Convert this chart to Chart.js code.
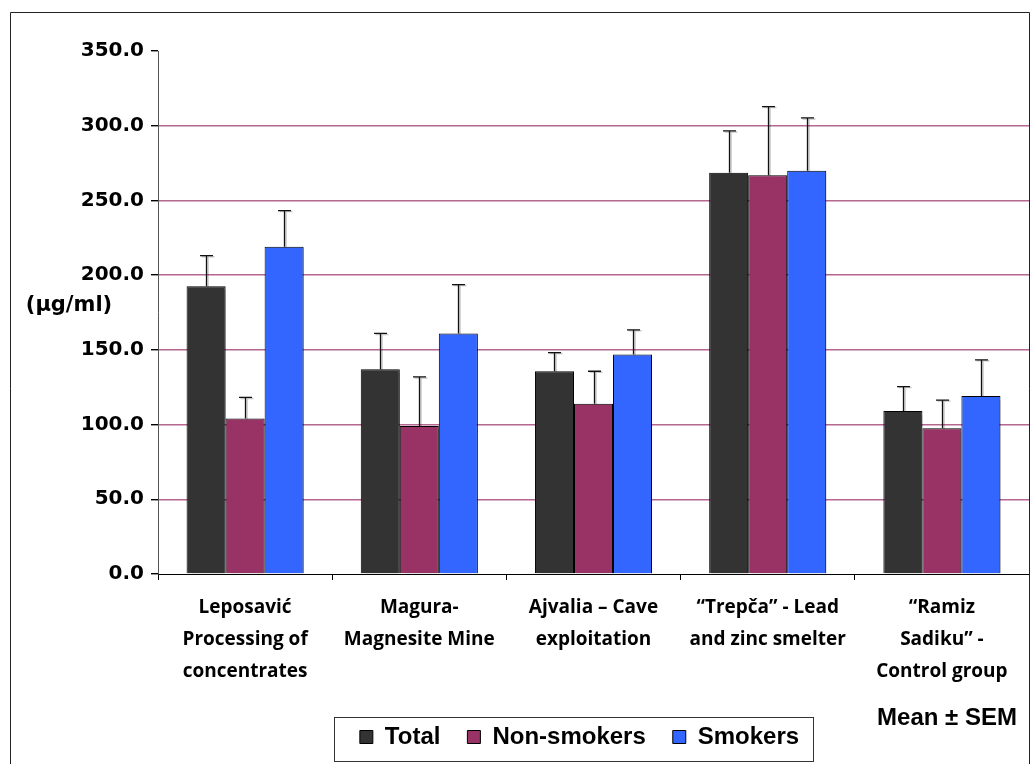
<!DOCTYPE html>
<html>
<head>
<meta charset="utf-8">
<script src="https://cdn.jsdelivr.net/npm/chart.js@4.4.1/dist/chart.umd.min.js"></script>
<style>
  html, body { margin: 0; padding: 0; background: #fff; }
  #wrap { width: 1033px; height: 764px; position: relative; }
</style>
</head>
<body>
<div id="wrap"><canvas id="c" width="1033" height="764"></canvas></div>
<script>
// Sites (multi-line category labels)
const categories = [
  ["Leposavić", "Processing of", "concentrates"],
  ["Magura-", "Magnesite Mine"],
  ["Ajvalia – Cave", "exploitation"],
  ["“Trepča” - Lead", "and zinc smelter"],
  ["“Ramiz", "Sadiku” -", "Control group"]
];

// Mean values (µg/ml)
const totalMean     = [192.6, 137.0, 135.7, 268.5, 109.0];
const nonSmokerMean = [104.1,  99.0, 114.0, 266.9,  97.6];
const smokerMean    = [219.0, 161.0, 146.9, 269.8, 119.1];

// Standard error of the mean
const totalSem     = [20.4, 24.0, 12.5, 28.0, 16.4];
const nonSmokerSem = [14.1, 32.9, 21.7, 45.9, 18.8];
const smokerSem    = [24.2, 32.7, 16.5, 35.4, 24.2];

// Y axis ticks
const yMin = 0, yMax = 350, yStep = 50;

const seriesNames = ["Total", "Non-smokers", "Smokers"];
const seriesColors = ["#333333", "#993366", "#3366FF"];

const semBySeries = [totalSem, nonSmokerSem, smokerSem];

// Upward SEM whiskers on each bar, plus soft bar shadows
const errorBars = {
  id: 'errorBars',
  beforeDatasetsDraw(chart) {
    const ctx = chart.ctx;
    ctx.save();
    ctx.shadowColor = 'rgba(0,0,0,0.28)';
    ctx.shadowOffsetX = 2;
    ctx.shadowOffsetY = 1;
    ctx.shadowBlur = 1;
  },
  afterDatasetsDraw(chart) {
    const ctx = chart.ctx;
    ctx.restore();
    const y = chart.scales.y;
    chart.data.datasets.forEach((ds, di) => {
      const meta = chart.getDatasetMeta(di);
      const sems = semBySeries[di];
      meta.data.forEach((bar, i) => {
        const x = Math.round(bar.x) + 0.5;
        const top = bar.y;
        const end = y.getPixelForValue(ds.data[i] + sems[i]);
        const half = 6.5;
        const draw = (dx, dy, col, w) => {
          ctx.save();
          ctx.strokeStyle = col;
          ctx.lineWidth = w;
          ctx.beginPath();
          ctx.moveTo(x + dx, top + dy);
          ctx.lineTo(x + dx, end + dy);
          ctx.moveTo(x - half + dx, end + dy);
          ctx.lineTo(x + half + dx, end + dy);
          ctx.stroke();
          ctx.restore();
        };
        draw(1.5, 1, 'rgba(0,0,0,0.22)', 1.5);
        draw(0, 0, '#111111', 1.3);
      });
    });
  }
};

// Axis unit, note, legend frame and outer frame
const decorations = {
  id: 'decorations',
  afterLayout(chart) {
    const lg = chart.legend;
    const want = 579.5;
    const dx = want - (lg.left + lg.right) / 2;
    lg.left += dx;
    lg.right += dx;
  },
  afterDraw(chart) {
    const ctx = chart.ctx;
    ctx.save();
    ctx.fillStyle = '#000';
    ctx.textBaseline = 'middle';
    ctx.textAlign = 'center';
    ctx.font = 'bold 21px "DejaVu Sans"';
    ctx.fillText('(µg/ml)', 69, 306);
    ctx.textBaseline = 'alphabetic';
    ctx.font = 'bold 24px "Liberation Sans"';
    ctx.fillText('Mean ± SEM', 947, 725);

    const hb = chart.legend.legendHitBoxes;
    if (hb && hb.length) {
      const first = hb[0], last = hb[hb.length - 1];
      const l = Math.round(first.left - 26) + 0.5;
      const r = Math.round(last.left + last.width + 14) + 0.5;
      const t = Math.round(first.top - 8) + 0.5;
      const b = Math.round(first.top + first.height + 12) + 0.5;
      ctx.strokeStyle = '#333';
      ctx.lineWidth = 1;
      ctx.strokeRect(l, t, r - l, b - t);
    }

    ctx.strokeStyle = '#222';
    ctx.lineWidth = 1;
    ctx.beginPath();
    ctx.moveTo(10.5, 764);
    ctx.lineTo(10.5, 12.5);
    ctx.lineTo(1029.5, 12.5);
    ctx.lineTo(1029.5, 764);
    ctx.stroke();
    ctx.restore();
  }
};

const datasets = [totalMean, nonSmokerMean, smokerMean].map((vals, i) => ({
  label: seriesNames[i],
  data: vals,
  backgroundColor: seriesColors[i],
  borderColor: '#000',
  borderWidth: 1,
  borderSkipped: 'bottom',
  barPercentage: 1.0,
  categoryPercentage: 0.672
}));

new Chart(document.getElementById('c'), {
  type: 'bar',
  data: { labels: categories, datasets },
  options: {
    responsive: false,
    animation: false,
    layout: { padding: { left: 0, right: 4, top: 51, bottom: 5 } },
    plugins: {
      tooltip: { enabled: false },
      title: { display: false },
      legend: {
        position: 'bottom',
        fullSize: false,
        labels: {
          boxWidth: 13,
          boxHeight: 13,
          padding: 27,
          color: '#000',
          font: { family: '"Liberation Sans", Arial, sans-serif', size: 24, weight: 'bold' }
        }
      }
    },
    scales: {
      x: {
        offset: true,
        grid: {
          offset: true,
          drawOnChartArea: false,
          drawTicks: true,
          tickLength: 6,
          color: '#000',
          tickColor: '#000'
        },
        border: { color: '#000', width: 1 },
        ticks: {
          autoSkip: false,
          maxRotation: 0,
          minRotation: 0,
          padding: 12,
          color: '#000',
          font: { family: '"Open Sans", sans-serif', size: 19, weight: 'bold', lineHeight: 1.684 }
        },
        afterFit(scale) { scale.height = 124; }
      },
      y: {
        min: yMin,
        max: yMax,
        grid: {
          drawTicks: true,
          tickLength: 7,
          tickColor: '#000',
          color: (c) => (c.tick && (c.tick.value === yMax || c.tick.value === yMin)) ? 'rgba(0,0,0,0)' : '#b5678f',
          lineWidth: 1.4
        },
        border: { color: '#555', width: 1 },
        ticks: {
          stepSize: yStep,
          padding: 7,
          color: '#000',
          font: { family: '"DejaVu Sans", sans-serif', size: 20, weight: 'bold' },
          callback: (v) => Number(v).toFixed(1)
        },
        afterFit(scale) { scale.width = 158; }
      }
    }
  },
  plugins: [errorBars, decorations]
});
</script>
</body>
</html>
